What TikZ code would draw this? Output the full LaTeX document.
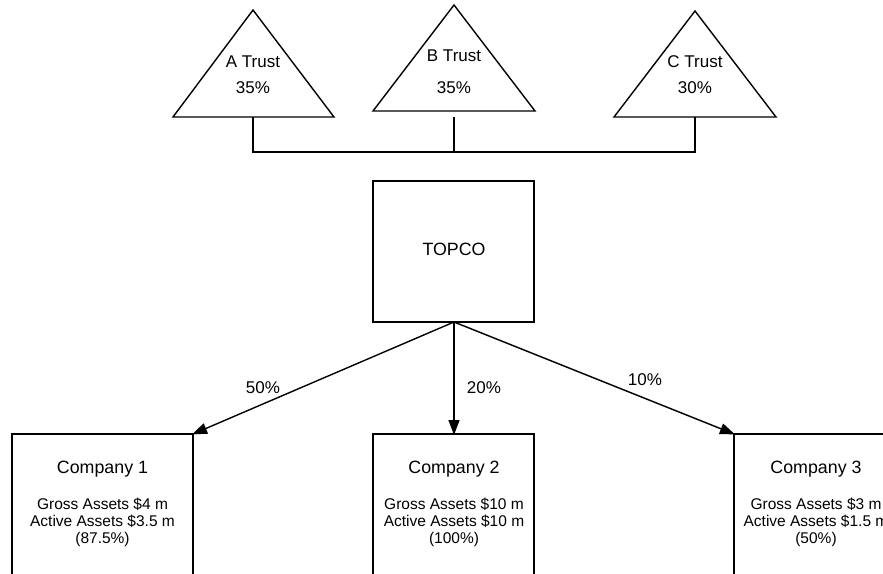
\documentclass[tikz,border=0pt]{standalone}
\usepackage{fontspec}
\setmainfont{Liberation Sans}
\usetikzlibrary{arrows.meta}

\begin{document}
\begin{tikzpicture}[x=1pt,y=-1pt,
  line/.style={line width=1.4pt, black},
  trustlabel/.style={font=\fontsize{17}{20}\selectfont, inner sep=0pt},
  boxlabel/.style={font=\fontsize{17.8}{21}\selectfont, inner sep=0pt},
  detail/.style={font=\fontsize{15.5}{16.8}\selectfont, align=center, inner sep=0pt},
  pct/.style={font=\fontsize{17}{20}\selectfont, inner sep=0pt},
  arr/.style={line, -{Triangle[length=15pt,width=11pt]}, shorten >=-1pt}
]
\useasboundingbox (0,0) rectangle (883,573);
\clip (0,0) rectangle (883,573);

% trust triangles
\coordinate (aTop) at (253,10);  \coordinate (aL) at (173,117); \coordinate (aR) at (334,117);
\coordinate (bTop) at (454,5);   \coordinate (bL) at (373,111); \coordinate (bR) at (535,111);
\coordinate (cTop) at (695,11);  \coordinate (cL) at (614,117); \coordinate (cR) at (776,117);
\draw[line, line join=miter] (aTop) -- (aR) -- (aL) -- cycle;
\draw[line, line join=miter] (bTop) -- (bR) -- (bL) -- cycle;
\draw[line, line join=miter] (cTop) -- (cR) -- (cL) -- cycle;

\node[trustlabel] (aName) at (253,62) {A Trust};
\node[trustlabel] (aPct)  at (253,88) {35\%};
\node[trustlabel] (bName) at (454,56) {B Trust};
\node[trustlabel] (bPct)  at (454,88) {35\%};
\node[trustlabel] (cName) at (695,62) {C Trust};
\node[trustlabel] (cPct)  at (695,88) {30\%};

% joining line under the trusts
\coordinate (aFoot) at (253,117);
\coordinate (bFoot) at (454,117);
\coordinate (cFoot) at (695,117);
\coordinate (join)  at (454,152);
\draw[line] (aFoot) |- (join) -- (bFoot);
\draw[line] (cFoot) |- (join);

% holding company
\draw[line] (373,181) rectangle (534,322);
\coordinate (topcoBase) at (454,322);
\node[boxlabel] (topco) at (454,249) {TOPCO};

% subsidiaries
\draw[line] (12,434) rectangle (193,600);
\draw[line] (373,434) rectangle (534,600);
\draw[line] (734,434) rectangle (898,600);
\coordinate (c1Corner) at (193,434);
\coordinate (c2Top) at (454,434);
\coordinate (c3Corner) at (734,434);

\node[boxlabel] (c1Name) at (102.5,469) {Company 1};
\node[detail, anchor=north] (c1Info) at (102.5,498) {Gross Assets \$4 m\\Active Assets \$3.5 m\\(87.5\%)};
\node[boxlabel] (c2Name) at (454,469) {Company 2};
\node[detail, anchor=north] (c2Info) at (454,498) {Gross Assets \$10 m\\Active Assets \$10 m\\(100\%)};
\node[boxlabel] (c3Name) at (816,469) {Company 3};
\node[detail, anchor=north] (c3Info) at (816,498) {Gross Assets \$3 m\\Active Assets \$1.5 m\\(50\%)};

% shareholding arrows
\draw[arr] (topcoBase) -- (c1Corner);
\draw[arr] (topcoBase) -- (c2Top);
\draw[arr] (topcoBase) -- (c3Corner);

\node[pct] (p1) at (263,388) {50\%};
\node[pct] (p2) at (484,388) {20\%};
\node[pct] (p3) at (645,380) {10\%};
\end{tikzpicture}
\end{document}
